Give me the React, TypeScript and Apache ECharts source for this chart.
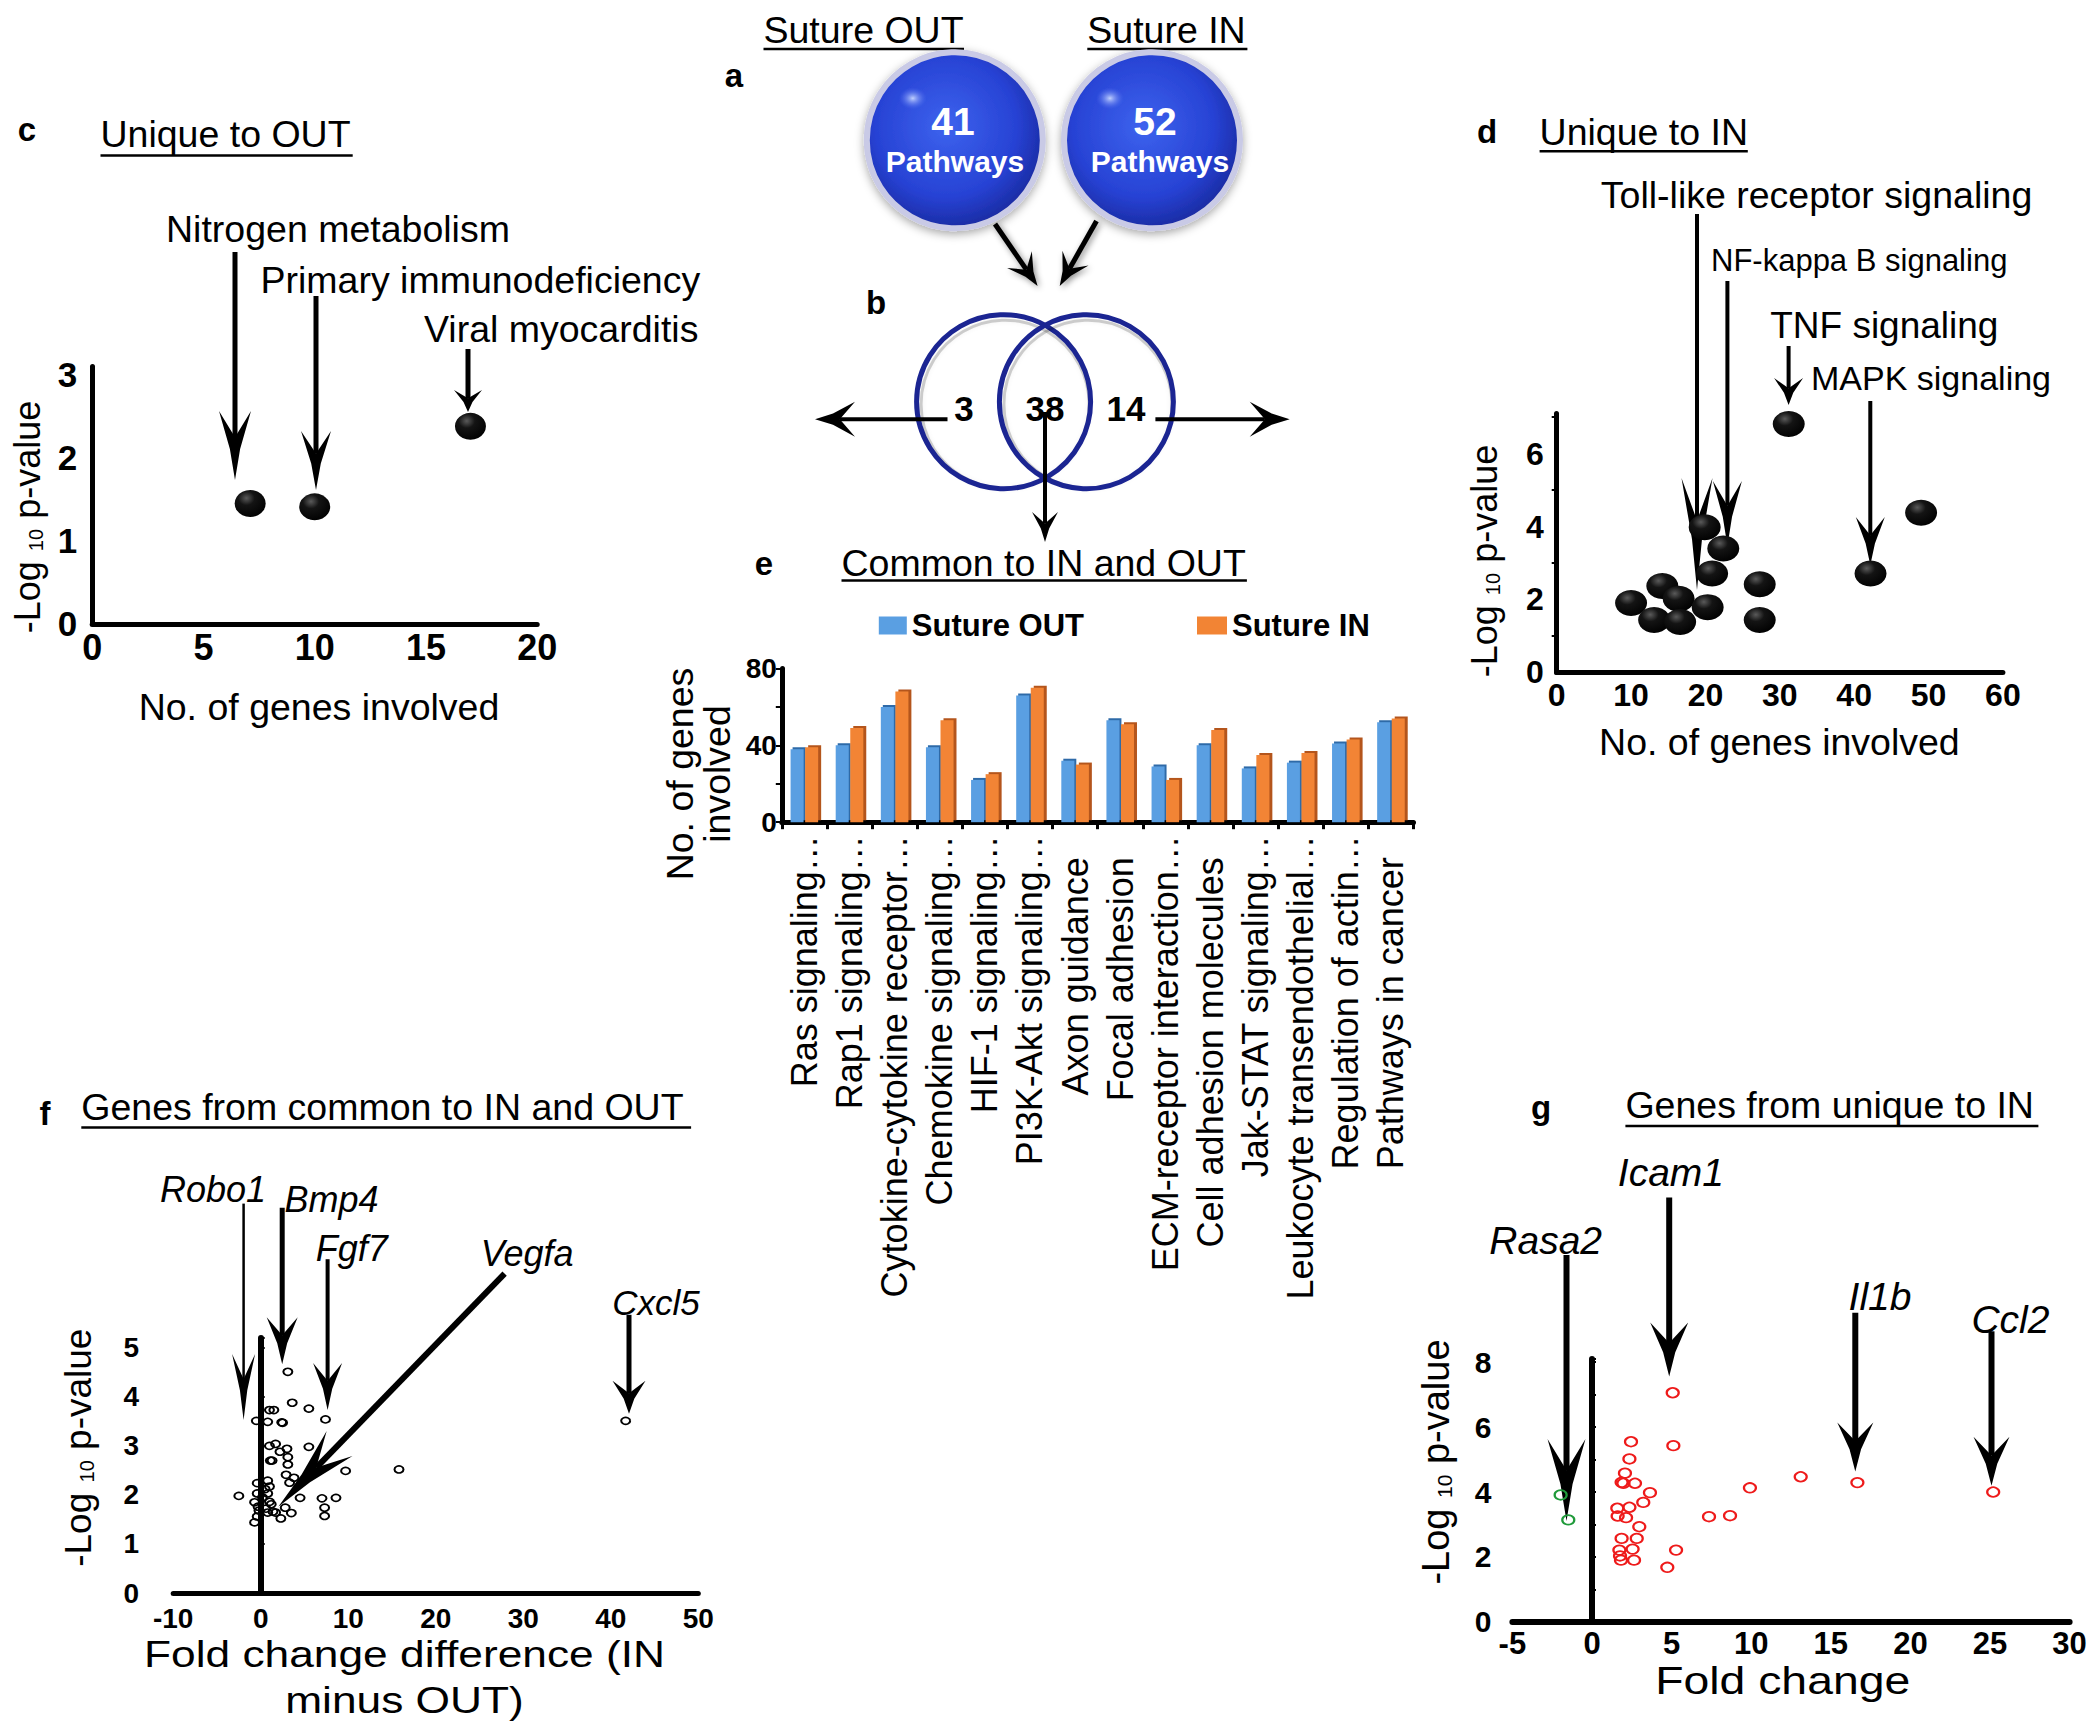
import React, { useEffect, useRef } from 'react';
import * as echarts from 'echarts';

const FONT = '"Liberation Sans", Arial, Helvetica, sans-serif';
const NARROW = '"Liberation Sans Narrow", "Arial Narrow", "Liberation Sans", Arial, sans-serif';

// ---------- a / b : pathway counts ----------
const groupNames = ['Suture OUT', 'Suture IN'];
const pathwayTotals = [41, 52];
const vennCounts = [3, 38, 14]; // only OUT, common, only IN

// ---------- c : unique to OUT ----------
const cPathways = ['Nitrogen metabolism', 'Primary immunodeficiency', 'Viral myocarditis'];
const cGenes = [7.1, 10, 17];
const cLogP = [1.45, 1.41, 2.38];
const cXTicks = [0, 5, 10, 15, 20];
const cYTicks = [0, 1, 2, 3];

// ---------- d : unique to IN ----------
const dPathways = ['Toll-like receptor signaling', 'NF-kappa B signaling', 'TNF signaling', 'MAPK signaling'];
const dGenes = [10, 14.2, 13.1, 16.4, 16.6, 19.9, 20.3, 20.9, 22.4, 27.3, 27.3, 31.2, 42.2, 49];
const dLogP = [1.9, 2.37, 1.44, 2.02, 1.38, 3.98, 1.79, 2.71, 3.4, 2.42, 1.44, 6.81, 2.71, 4.38];
const dXTicks = [0, 10, 20, 30, 40, 50, 60];
const dYTicks = [0, 2, 4, 6];

// ---------- e : common pathways ----------
const eCategories = [
  'Ras signaling…', 'Rap1 signaling…', 'Cytokine-cytokine receptor…', 'Chemokine signaling…',
  'HIF-1 signaling…', 'PI3K-Akt signaling…', 'Axon guidance', 'Focal adhesion',
  'ECM-receptor interaction…', 'Cell adhesion molecules', 'Jak-STAT signaling…',
  'Leukocyte transendothelial…', 'Regulation of actin…', 'Pathways in cancer',
];
const eOut = [38, 40, 60, 39, 22, 66, 32, 53, 29, 40, 28, 31, 41, 52];
const eIn = [39, 49, 68, 53, 25, 70, 30, 51, 22, 48, 35, 36, 43, 54];
const eYTicks = [0, 40, 80];

// ---------- f : genes common ----------
const fGeneLabels = ['Robo1', 'Bmp4', 'Fgf7', 'Vegfa', 'Cxcl5'];
const fFold = [3.1, 3.6, 5.5, 7.4, 1.0, 1.5, -0.5, 0.8, 2.4, 2.5, 1.0, 1.7, 3.0, 2.2, 5.5, 3.1, 1.1, 1.3, 3.1, 9.7,
  15.8, 2.9, 3.8, 3.3, -0.4, 0.8, 1.0, -2.5, -0.4, 0.8, -0.7, 1.0, 4.5, 7.0, 8.6, 7.3, 7.3, 2.8, 3.5, 2.3,
  1.7, -0.4, -0.7, -0.3, 1.2, 1.4, 0.8, 0.5, 0.2, 0.6, -0.2, 41.7];
const fLogP = [4.51, 3.88, 3.76, 3.54, 3.73, 3.73, 3.51, 3.49, 3.48, 3.47, 3.0, 3.04, 2.94, 2.88, 2.98, 2.77, 2.7, 2.7, 2.62, 2.49,
  2.52, 2.41, 2.35, 2.25, 2.24, 2.29, 2.17, 1.98, 2.03, 2.03, 1.85, 1.86, 1.94, 1.93, 1.94, 1.74, 1.57, 1.74, 1.63, 1.52,
  1.64, 1.56, 1.44, 1.76, 1.81, 1.66, 1.64, 2.12, 1.95, 1.72, 1.68, 3.51];
const fXTicks = [-10, 0, 10, 20, 30, 40, 50];
const fYTicks = [0, 1, 2, 3, 4, 5];

// ---------- g : genes unique to IN ----------
const gGeneLabels = ['Rasa2', 'Icam1', 'Il1b', 'Ccl2'];
const gUpFold = [5.07, 5.11, 2.45, 2.35, 2.07, 1.86, 1.97, 2.7, 3.64, 3.22, 1.59, 2.35, 1.61, 2.14, 2.97, 2.81, 1.86, 2.55, 1.72, 1.76,
  1.82, 2.64, 5.28, 4.73, 7.35, 8.67, 9.92, 13.11, 16.67, 25.2];
const gUpLogP = [7.06, 5.43, 5.55, 5.02, 4.58, 4.3, 4.27, 4.27, 3.98, 3.68, 3.5, 3.53, 3.26, 3.21, 2.93, 2.57, 2.57, 2.24, 2.21, 2.03,
  1.9, 1.9, 2.21, 1.68, 3.24, 3.27, 4.13, 4.47, 4.29, 4.0];
const gDownFold = [-1.97, -1.49];
const gDownLogP = [3.91, 3.14];
const gXTicks = [-5, 0, 5, 10, 15, 20, 25, 30];
const gYTicks = [0, 2, 4, 6, 8];

const zip = (a: number[], b: number[]) => a.map((v, i) => [v, b[i]]);

function T(x: number, y: number, text: string, size: number, o: any = {}) {
  const style: any = {
    text, x: 0, y: 0, fill: o.color || '#000', fontFamily: FONT, fontSize: size,
    fontWeight: o.bold ? 'bold' : 'normal', fontStyle: o.italic ? 'italic' : 'normal',
    align: o.align || 'left', textAlign: o.align || 'left',
    verticalAlign: 'middle', textVerticalAlign: 'middle',
  };
  if (o.lineHeight) style.lineHeight = o.lineHeight;
  if (o.rich) style.rich = o.rich;
  const el: any = { type: 'text', x, y, rotation: o.rot || 0, silent: true, style };
  if (o.scaleX) el.scaleX = o.scaleX;
  return el;
}

function underline(x1: number, x2: number, y: number) {
  return { type: 'line', silent: true, shape: { x1, y1: y, x2, y2: y }, style: { stroke: '#000', lineWidth: 2.5 } };
}

function arrow(x1: number, y1: number, x2: number, y2: number, shaft: number, hw: number, hl: number, shadow = false) {
  const dx = x2 - x1, dy = y2 - y1, L = Math.hypot(dx, dy);
  const ux = dx / L, uy = dy / L, px = -uy, py = ux;
  const at = (a: number, b: number) => [x2 - ux * a + px * b, y2 - uy * a + py * b];
  const notch = hl * 0.62;
  const pts = [at(0, 0), at(hl * 0.45, hw * 0.16), at(hl, hw / 2), at(notch, 0), at(hl, -hw / 2), at(hl * 0.45, -hw * 0.16)];
  const sh = shadow ? { shadowBlur: 6, shadowColor: 'rgba(0,0,0,0.45)', shadowOffsetX: 2, shadowOffsetY: 2 } : {};
  const e = at(notch, 0);
  return [
    { type: 'line', silent: true, shape: { x1, y1, x2: e[0], y2: e[1] }, style: { stroke: '#000', lineWidth: shaft, ...sh } },
    { type: 'polygon', silent: true, shape: { points: pts }, style: { fill: '#000', ...sh } },
  ];
}

const logRich = (main: number) => ({
  s: { fontSize: Math.round(main * 0.55), fontFamily: FONT, fill: '#000', verticalAlign: 'bottom' },
});
const logLabel = '-Log {s|10} p-value';

const blackBall = new echarts.graphic.RadialGradient(0.38, 0.3, 0.75, [
  { offset: 0, color: '#5a5a5a' },
  { offset: 0.35, color: '#141414' },
  { offset: 1, color: '#000' },
]);

function sphere(cx: number, cy: number) {
  return [
    {
      type: 'circle', silent: true, shape: { cx, cy, r: 88 },
      style: {
        fill: new echarts.graphic.RadialGradient(0.45, 0.42, 0.62, [
          { offset: 0, color: '#3d63ee' },
          { offset: 0.65, color: '#2742d4' },
          { offset: 1, color: '#18279a' },
        ]),
        stroke: '#c9cae6', lineWidth: 6, shadowBlur: 10, shadowColor: 'rgba(0,0,0,0.35)', shadowOffsetY: 3,
      },
    },
    {
      type: 'ellipse', silent: true, shape: { cx: cx - 42, cy: cy - 42, rx: 14, ry: 11 },
      style: {
        fill: new echarts.graphic.RadialGradient(0.5, 0.5, 0.5, [
          { offset: 0, color: 'rgba(200,215,255,0.95)' },
          { offset: 1, color: 'rgba(80,110,240,0)' },
        ]),
      },
    },
  ];
}

function vennRing(cx: number, cy: number) {
  return [
    { type: 'circle', silent: true, shape: { cx: cx + 1.5, cy: cy + 2.5, r: 84 }, style: { fill: 'none', stroke: 'rgba(0,0,0,0.18)', lineWidth: 3, shadowBlur: 4, shadowColor: 'rgba(0,0,0,0.3)' } },
    { type: 'circle', silent: true, shape: { cx, cy, r: 87 }, style: { fill: 'none', stroke: '#1b2592', lineWidth: 5 } },
  ];
}

function buildGraphics() {
  const els: any[] = [];
  // panel letters
  const L = (x: number, y: number, t: string) => els.push(T(x, y, t, 33, { bold: true, align: 'center' }));
  L(27, 129, 'c'); L(734, 75, 'a'); L(876, 302, 'b'); L(1487, 131, 'd'); L(764, 563, 'e'); L(45, 1113, 'f'); L(1541, 1107, 'g');

  // titles with underline
  const title = (x: number, y: number, t: string, x2: number, uy: number) => {
    els.push(T(x, y, t, 37.5));
    els.push(underline(x, x2, uy));
  };
  title(100.5, 133.6, 'Unique to OUT', 352.7, 155.4);
  title(763.5, 29.8, groupNames[0], 964, 49.1);
  title(1087.3, 29.8, groupNames[1], 1247.4, 49.1);
  title(1539.6, 131.6, 'Unique to IN', 1747.8, 151.3);
  title(841.5, 562.7, 'Common to IN and OUT', 1246.9, 580.4);
  title(81.3, 1106.8, 'Genes from common to IN and OUT', 691.1, 1127.4);
  title(1625.4, 1104.7, 'Genes from unique to IN', 2038.4, 1126.1);

  // a: spheres
  els.push(...sphere(954.8, 140.3), ...sphere(1152, 140.3));
  els.push(T(953, 121, String(pathwayTotals[0]), 39, { bold: true, color: '#fff', align: 'center' }));
  els.push(T(955, 161, 'Pathways', 30, { bold: true, color: '#fff', align: 'center' }));
  els.push(T(1155, 121, String(pathwayTotals[1]), 39, { bold: true, color: '#fff', align: 'center' }));
  els.push(T(1160, 161, 'Pathways', 30, { bold: true, color: '#fff', align: 'center' }));
  els.push(...arrow(995, 224, 1037.6, 286, 5, 30, 32, true));
  els.push(...arrow(1096.5, 221, 1059.7, 286, 5, 30, 32, true));

  // b: venn
  els.push(...vennRing(1003.6, 401.7), ...vennRing(1086.4, 401.7));
  els.push(T(964, 408.7, String(vennCounts[0]), 35, { bold: true, align: 'center' }));
  els.push(T(1045, 408.7, String(vennCounts[1]), 35, { bold: true, align: 'center' }));
  els.push(T(1126, 408.7, String(vennCounts[2]), 35, { bold: true, align: 'center' }));
  els.push(...arrow(947.5, 419.2, 815, 419.2, 4, 35, 40));
  els.push(...arrow(1155.4, 419.2, 1289.7, 419.2, 4, 35, 40));
  els.push(...arrow(1045, 412, 1045, 542, 4, 26, 30));

  // c annotations
  els.push(T(166, 228.5, cPathways[0], 37.5));
  els.push(T(260.5, 280, cPathways[1], 37.5));
  els.push(T(424, 329.3, cPathways[2], 37.5));
  els.push(...arrow(235, 252, 235, 480, 5, 32, 69));
  els.push(...arrow(316, 296, 316, 490, 5, 30, 59));
  els.push(...arrow(468, 349, 468, 412, 5, 28, 22));
  els.push(T(319, 707, 'No. of genes involved', 37.5, { align: 'center' }));
  els.push(T(27.7, 517, logLabel, 36, { align: 'center', rot: Math.PI / 2, rich: logRich(36) }));

  // d annotations
  els.push(T(1600.8, 194.7, dPathways[0], 37.5));
  els.push(T(1711, 260, dPathways[1], 31));
  els.push(T(1770.2, 325.2, dPathways[2], 37));
  els.push(T(1811, 377.8, dPathways[3], 34));
  els.push(...arrow(1697, 214, 1697, 590, 4, 31, 112));
  els.push(...arrow(1727.4, 281, 1727.4, 546, 4, 29, 65));
  els.push(...arrow(1788.6, 346, 1788.6, 405, 4, 29, 27));
  els.push(...arrow(1870.3, 401, 1870.3, 565, 4, 29, 48));
  els.push(T(1779.4, 742, 'No. of genes involved', 37.5, { align: 'center' }));
  els.push(T(1484.5, 561, logLabel, 36, { align: 'center', rot: Math.PI / 2, rich: logRich(36) }));

  // e axis name
  els.push(T(698.4, 774, 'No. of genes\ninvolved', 37.5, { align: 'center', rot: Math.PI / 2, lineHeight: 37 }));

  // f annotations
  els.push(T(160, 1189.2, fGeneLabels[0], 36, { italic: true }));
  els.push(T(284.6, 1199.5, fGeneLabels[1], 36, { italic: true }));
  els.push(T(315.7, 1248.9, fGeneLabels[2], 36, { italic: true }));
  els.push(T(480.7, 1253, fGeneLabels[3], 36, { italic: true }));
  els.push(T(612.2, 1302.5, fGeneLabels[4], 35, { italic: true }));
  els.push(...arrow(243.6, 1203.6, 243.6, 1420, 2.5, 23, 66));
  els.push(...arrow(282.2, 1207.7, 282.2, 1364.3, 5, 31, 47));
  els.push(...arrow(327.6, 1259.2, 327.6, 1410, 4, 29, 47));
  els.push(...arrow(504.6, 1273.6, 278.3, 1506.7, 6, 36, 88));
  els.push(...arrow(629, 1314.8, 629, 1413.7, 5, 33, 33));
  els.push(T(404.5, 1655, 'Fold change difference (IN', 36, { align: 'center', scaleX: 1.23 }));
  els.push(T(404.5, 1701, 'minus OUT)', 36, { align: 'center', scaleX: 1.23 }));
  els.push(T(78.9, 1447.7, logLabel, 37, { align: 'center', rot: Math.PI / 2, rich: logRich(37) }));

  // g annotations
  els.push(T(1489.3, 1240.7, gGeneLabels[0], 39, { italic: true }));
  els.push(T(1617.8, 1172.7, gGeneLabels[1], 39, { italic: true }));
  els.push(T(1848.6, 1296.3, gGeneLabels[2], 39, { italic: true }));
  els.push(T(1971.4, 1319, gGeneLabels[3], 39, { italic: true }));
  els.push(...arrow(1566.5, 1255, 1566.5, 1521, 6, 38, 82));
  els.push(...arrow(1669.2, 1197.4, 1669.2, 1376.6, 6, 38, 54));
  els.push(...arrow(1855.3, 1312.8, 1855.3, 1471.4, 6, 36, 49));
  els.push(...arrow(1991.5, 1331.3, 1991.5, 1485.8, 6, 36, 49));
  els.push(T(1782.7, 1681, 'Fold change', 38, { align: 'center', scaleX: 1.22 }));
  els.push(T(1435.7, 1462, logLabel, 38, { align: 'center', rot: Math.PI / 2, rich: logRich(38) }));
  return els;
}

const axisLine = (w: number, onZero = false) => ({ show: true, onZero, lineStyle: { color: '#000', width: w } });
const tickLabel = (margin: number, size = 31, family = FONT) => ({
  color: '#000', fontFamily: family, fontWeight: 'bold', fontSize: size, margin,
});
const ticksOf = (t: number[]) => ({ min: t[0], max: t[t.length - 1], interval: t[1] - t[0] });

function buildOption(): any {
  return {
    animation: false,
    backgroundColor: '#fff',
    textStyle: { fontFamily: FONT },
    grid: [
      { left: 92.2, top: 366.6, width: 445, height: 257.3 },
      { left: 1556.7, top: 413.5, width: 446.2, height: 258.9 },
      { left: 781.8, top: 668.5, width: 631.7, height: 153.7 },
      { left: 173.2, top: 1338, width: 525.1, height: 255 },
      { left: 1512.4, top: 1359, width: 557.2, height: 262.8 },
    ],
    legend: [
      {
        data: [groupNames[0]], left: 878.8, top: 610, padding: 0, icon: 'rect', itemWidth: 28, itemHeight: 18,
        textStyle: { fontFamily: FONT, fontWeight: 'bold', fontSize: 31, color: '#000' },
      },
      {
        data: [groupNames[1]], left: 1197, top: 610, padding: 0, icon: 'rect', itemWidth: 30, itemHeight: 18,
        textStyle: { fontFamily: FONT, fontWeight: 'bold', fontSize: 31, color: '#000' },
      },
    ],
    xAxis: [
      { gridIndex: 0, type: 'value', ...ticksOf(cXTicks), axisLine: axisLine(5), axisTick: { show: false }, splitLine: { show: false }, axisLabel: tickLabel(6, 36, NARROW) },
      { gridIndex: 1, type: 'value', ...ticksOf(dXTicks), axisLine: axisLine(5), axisTick: { show: false }, splitLine: { show: false }, axisLabel: tickLabel(7, 32) },
      {
        gridIndex: 2, type: 'category', data: eCategories, axisLine: axisLine(5),
        axisTick: { show: true, length: 7, lineStyle: { color: '#000', width: 3 } },
        axisLabel: {
          rotate: 90, interval: 0, fontSize: 36, fontFamily: FONT, color: '#000', margin: 13,
          formatter: (v: string) => (v.endsWith('…') ? v : `{p|${v}}`),
          rich: { p: { fontSize: 36, fontFamily: FONT, color: '#000', padding: [0, 22, 0, 0] } },
        },
      },
      { gridIndex: 3, type: 'value', ...ticksOf(fXTicks), axisLine: axisLine(5), axisTick: { show: false }, splitLine: { show: false }, axisLabel: tickLabel(11, 28) },
      { gridIndex: 4, type: 'value', ...ticksOf(gXTicks), axisLine: axisLine(6), axisTick: { show: false }, splitLine: { show: false }, axisLabel: tickLabel(6, 31) },
    ],
    yAxis: [
      {
        gridIndex: 0, type: 'value', min: cYTicks[0], max: 3.1, interval: cYTicks[1] - cYTicks[0], axisLine: axisLine(5),
        axisTick: { show: false }, splitLine: { show: false }, axisLabel: { ...tickLabel(15, 35, NARROW), showMaxLabel: false },
      },
      {
        gridIndex: 1, type: 'value', min: dYTicks[0], max: 7.1, interval: dYTicks[1] - dYTicks[0], axisLine: axisLine(5),
        axisTick: { show: false }, splitLine: { show: false },
        minorTick: { show: true, splitNumber: 2, length: 5, lineStyle: { color: '#000', width: 2 } }, minorSplitLine: { show: false },
        axisLabel: { ...tickLabel(13, 32), showMaxLabel: false },
      },
      {
        gridIndex: 2, type: 'value', ...ticksOf(eYTicks), axisLine: axisLine(5),
        axisTick: { show: true, length: 6, lineStyle: { color: '#000', width: 2 } }, splitLine: { show: false },
        minorTick: { show: true, splitNumber: 2, length: 6, lineStyle: { color: '#000', width: 2 } }, minorSplitLine: { show: false },
        axisLabel: tickLabel(5, 28),
      },
      {
        gridIndex: 3, type: 'value', min: fYTicks[0], max: 5.2, interval: fYTicks[1] - fYTicks[0],
        axisLine: { show: false, onZero: false }, axisTick: { show: false }, splitLine: { show: false },
        axisLabel: { ...tickLabel(34, 28), showMaxLabel: false },
      },
      {
        gridIndex: 3, type: 'value', min: fYTicks[0], max: 5.2, interval: fYTicks[1] - fYTicks[0],
        axisLine: axisLine(6, true), axisTick: { show: true, length: 4, lineStyle: { color: '#000', width: 2 } },
        splitLine: { show: false }, axisLabel: { show: false },
      },
      {
        gridIndex: 4, type: 'value', min: gYTicks[0], max: 8.1, interval: gYTicks[1] - gYTicks[0],
        axisLine: { show: false, onZero: false }, axisTick: { show: false }, splitLine: { show: false },
        axisLabel: { ...tickLabel(21, 30), showMaxLabel: false },
      },
      {
        gridIndex: 4, type: 'value', min: gYTicks[0], max: 8.1, interval: 1,
        axisLine: axisLine(6, true), axisTick: { show: true, length: 4, lineStyle: { color: '#000', width: 2 } },
        splitLine: { show: false }, axisLabel: { show: false },
      },
    ],
    series: [
      { type: 'scatter', xAxisIndex: 0, yAxisIndex: 0, data: zip(cGenes, cLogP), symbol: 'circle', symbolSize: [31, 27], itemStyle: { color: blackBall, opacity: 1 } },
      { type: 'scatter', xAxisIndex: 1, yAxisIndex: 1, data: zip(dGenes, dLogP), symbol: 'circle', symbolSize: [32, 26], itemStyle: { color: blackBall, opacity: 1 } },
      {
        type: 'bar', name: groupNames[0], xAxisIndex: 2, yAxisIndex: 2, data: eOut, barWidth: 13, barGap: '12%',
        itemStyle: { color: '#5a9fe2', shadowColor: '#2e6aa8', shadowOffsetX: 2, shadowOffsetY: -2, shadowBlur: 0 },
      },
      {
        type: 'bar', name: groupNames[1], xAxisIndex: 2, yAxisIndex: 2, data: eIn, barWidth: 13,
        itemStyle: { color: '#f28434', shadowColor: '#b4541a', shadowOffsetX: 3, shadowOffsetY: -2, shadowBlur: 0 },
      },
      {
        type: 'scatter', xAxisIndex: 3, yAxisIndex: 3, data: zip(fFold, fLogP), symbol: 'circle', symbolSize: [9, 7],
        itemStyle: { color: 'rgba(255,255,255,0)', borderColor: '#000', borderWidth: 1.8, opacity: 1 },
      },
      {
        type: 'scatter', xAxisIndex: 4, yAxisIndex: 5, data: zip(gUpFold, gUpLogP), symbol: 'circle', symbolSize: [12, 9.5],
        itemStyle: { color: 'rgba(255,255,255,0)', borderColor: '#ee1a1a', borderWidth: 2, opacity: 1 },
      },
      {
        type: 'scatter', xAxisIndex: 4, yAxisIndex: 5, data: zip(gDownFold, gDownLogP), symbol: 'circle', symbolSize: [12, 9.5],
        itemStyle: { color: 'rgba(255,255,255,0)', borderColor: '#1f9a3a', borderWidth: 2, opacity: 1 },
      },
    ],
    graphic: { elements: buildGraphics() },
  };
}

export default function App() {
  const ref = useRef<HTMLDivElement>(null);
  useEffect(() => {
    if (!ref.current) return;
    const chart = echarts.init(ref.current, undefined, { renderer: 'svg', width: 2100, height: 1726 });
    chart.setOption(buildOption());
    return () => chart.dispose();
  }, []);
  return (
    <div
      ref={ref}
      style={{ position: 'absolute', left: 0, top: 0, width: 2100, height: 1726, background: '#fff' }}
    />
  );
}
